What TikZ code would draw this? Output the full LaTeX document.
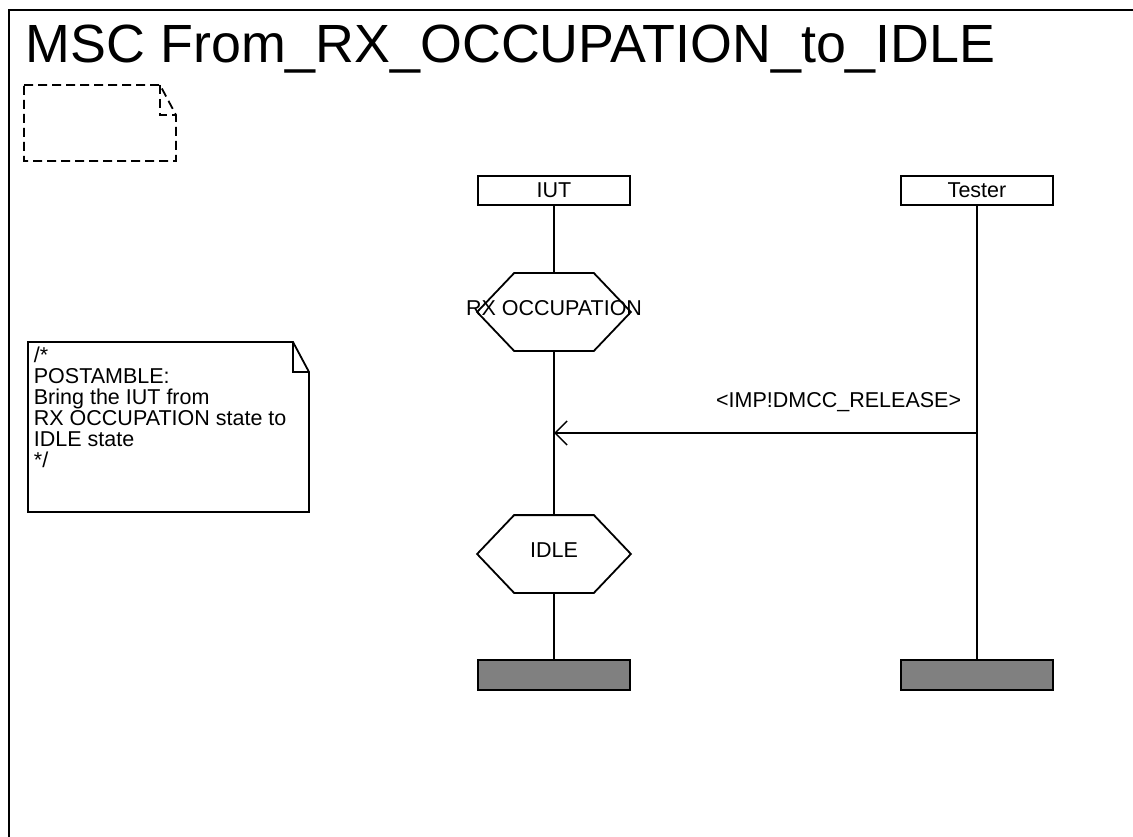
\documentclass[tikz,border=0pt]{standalone}
\usepackage{fontspec}
\setmainfont{Liberation Sans}
\usepackage{tikz}
\usetikzlibrary{arrows.meta}

\begin{document}
\lineskiplimit=-20pt
\begin{tikzpicture}[x=1pt,y=1pt,line width=1.8pt,
  every node/.style={inner sep=0pt,font=\fontsize{21.5}{21}\selectfont},
  instbox/.style={draw,fill=white,minimum width=152pt,minimum height=29pt},
  endbox/.style={draw,fill=black!50,minimum width=152pt,minimum height=30pt},
  hexframe/.style={minimum width=152pt,minimum height=76pt},
  msg/.style={-{Straight Barb[length=12pt,width=24pt,line width=1.5pt]}}]
\useasboundingbox (0,0) rectangle (1133,-837);
\draw (9,-860) -- (9,-10) -- (1150,-10);
\node[anchor=base west,font=\fontsize{53.8}{60}\selectfont] (title) at (25,-63) {MSC From\_RX\_OCCUPATION\_to\_IDLE};
\draw[dash pattern=on 9pt off 5pt] (24,-85) -- (160,-85) -- (176,-115) -- (176,-161) -- (24,-161) -- cycle;
\draw[dash pattern=on 9pt off 5pt] (160,-85) -- (160,-115) -- (176,-115);
\draw (28,-342) -- (293,-342) -- (309,-372) -- (309,-512) -- (28,-512) -- cycle;
\draw (293,-342) -- (293,-372) -- (309,-372);
\node[anchor=north west,align=left] (note) at (33,-346.5) {/*\\POSTAMBLE:\\Bring the IUT from\\RX OCCUPATION state to\\IDLE state\\*/};
\node[instbox] (iut) at (554,-190.5) {IUT};
\node[instbox] (tester) at (977,-190.5) {Tester};
\node[hexframe] (rx) at (554,-312) {};
\node[hexframe] (idle) at (554,-554) {};
\foreach \s in {rx,idle}
  \draw ([xshift=37pt]\s.north west) -- ([xshift=-37pt]\s.north east) -- (\s.east)
    -- ([xshift=-37pt]\s.south east) -- ([xshift=37pt]\s.south west) -- (\s.west) -- cycle;
\node[anchor=base] (rxlbl) at ([yshift=-3pt]rx.center) {RX OCCUPATION};
\node[anchor=base] (idlelbl) at ([yshift=-3pt]idle.center) {IDLE};
\node[endbox] (iutend) at (554,-675) {};
\node[endbox] (testerend) at (977,-675) {};
\draw (iut.south) -- (rx.north);
\draw (rx.south) -- (idle.north);
\draw (idle.south) -- (iutend.north);
\draw (tester.south) -- (testerend.north);
\coordinate (relfrom) at (977,-433);
\coordinate (relto) at (554,-433);
\draw[msg] (relfrom) -- (relto);
\node[anchor=base east] (rellbl) at (962,-407) {<IMP!DMCC\_RELEASE>};
\end{tikzpicture}
\end{document}
